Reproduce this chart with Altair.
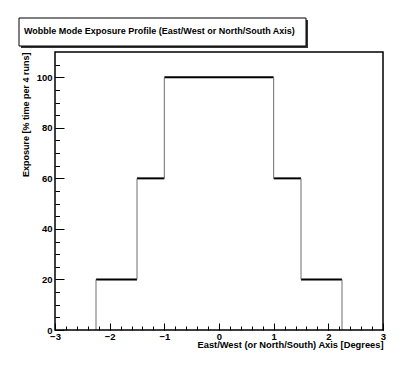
import altair as alt
import pandas as pd

# ---- data ----
edges = [-2.25, -1.5, -1.0, 1.0, 1.5, 2.25]      # bin edges (degrees)
exposure = [20, 60, 100, 60, 20]                  # % time per 4 runs
x_domain = [-3, 3]
y_domain = [0, 110]
x_major = [-3, -2, -1, 0, 1, 2, 3]
x_minor = [round(-3 + 0.2 * i, 1) for i in range(31)]
y_major = [0, 20, 40, 60, 80, 100]
y_minor = [5 * i for i in range(22)]

title_text = "Wobble Mode Exposure Profile (East/West or North/South Axis)"
x_title = "East/West (or North/South) Axis [Degrees]"
y_title = "Exposure [% time per 4 runs]"

W, H = 328, 278
FONT = "Liberation Sans"

horiz = pd.DataFrame({"x": edges[:-1], "x2": edges[1:], "y": exposure})
lows = [0] + exposure
highs = exposure + [0]
vert = pd.DataFrame({"x": edges, "y": lows, "y2": highs})
frame = pd.DataFrame({"x": [x_domain[0]], "x2": [x_domain[1]],
                      "y": [y_domain[0]], "y2": [y_domain[1]]})
one = pd.DataFrame({"a": [0]})

xs = alt.Scale(domain=x_domain, nice=False, zero=False)
ys = alt.Scale(domain=y_domain, nice=False, zero=False)

lab = dict(labelFont=FONT, labelFontWeight="bold", labelFontSize=9.5, labelColor="black",
           titleFont=FONT, titleFontWeight="bold", titleColor="black")

# horizontal segments: carries label axes
h_layer = alt.Chart(horiz).mark_rule(color="black", strokeWidth=2).encode(
    x=alt.X("x:Q", scale=xs, axis=alt.Axis(
        orient="bottom", values=x_major, ticks=False, domain=False, grid=False,
        labelPadding=1, title=x_title, titleAnchor="end", titlePadding=0,
        titleFontSize=9.3, labelFlush=False, **lab)),
    x2="x2:Q",
    y=alt.Y("y:Q", scale=ys, axis=alt.Axis(
        orient="left", values=y_major, ticks=False, domain=False, grid=False,
        labelPadding=3, title=y_title, titleAnchor="end", titlePadding=6,
        titleFontSize=9, **lab)),
)

# vertical segments: carries major inward ticks
v_layer = alt.Chart(vert).mark_rule(color="#6e6e6e", strokeWidth=1).encode(
    x=alt.X("x:Q", scale=xs, axis=alt.Axis(
        orient="top", offset=-H, values=x_major, labels=False, domain=False, grid=False,
        ticks=True, tickSize=7, tickColor="black", tickWidth=1, title=None)),
    y=alt.Y("y:Q", scale=ys, axis=alt.Axis(
        orient="right", offset=-W, values=y_major, labels=False, domain=False, grid=False,
        ticks=True, tickSize=9, tickColor="black", tickWidth=1, title=None)),
    y2="y2:Q",
)

# frame: carries minor inward ticks
f_layer = alt.Chart(frame).mark_rect(fill=None, stroke="black", strokeWidth=1.5).encode(
    x=alt.X("x:Q", scale=xs, axis=alt.Axis(
        orient="top", offset=-H, values=x_minor, labels=False, domain=False, grid=False,
        ticks=True, tickSize=4, tickColor="black", tickWidth=1, title=None)),
    x2="x2:Q",
    y=alt.Y("y:Q", scale=ys, axis=alt.Axis(
        orient="right", offset=-W, values=y_minor, labels=False, domain=False, grid=False,
        ticks=True, tickSize=4.5, tickColor="black", tickWidth=1, title=None)),
    y2="y2:Q",
)

# title box (ROOT-style pave with shadow)
shadow = alt.Chart(one).mark_rect(fill="#333333").encode(
    x=alt.value(-34), x2=alt.value(253), y=alt.value(-32), y2=alt.value(-4))
box = alt.Chart(one).mark_rect(fill="white", stroke="black", strokeWidth=1).encode(
    x=alt.value(-36), x2=alt.value(251), y=alt.value(-34), y2=alt.value(-6))
ttl = alt.Chart(one).mark_text(font=FONT, fontWeight="bold", fontSize=9, align="left",
                               baseline="middle", color="black").encode(
    x=alt.value(-31), y=alt.value(-21), text=alt.value(title_text))

chart = alt.layer(shadow, box, ttl, h_layer, v_layer, f_layer).resolve_axis(
    x="independent", y="independent"
).properties(
    width=W, height=H,
    autosize=alt.AutoSizeParams(type="none"),
    padding={"left": 47, "top": 44, "right": 22, "bottom": 30},
    background="white",
).configure_view(stroke=None)

chart.save("out.html", embed_options={"renderer": "svg", "actions": False})
